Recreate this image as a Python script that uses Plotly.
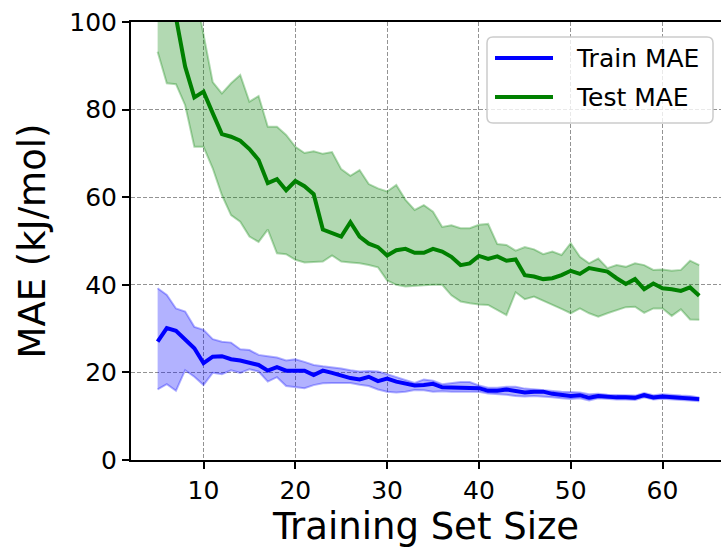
import plotly.graph_objects as go

# Training set sizes
sizes = list(range(5, 65))

# Train MAE (kJ/mol): mean and spread bounds
train_mean = [27.0, 30.1, 29.5, 27.4, 25.5, 22.1, 23.6, 23.7, 23.0, 22.7,
              22.2, 21.7, 20.4, 21.2, 20.4, 20.5, 20.4, 19.4, 20.4, 19.9,
              19.2, 18.7, 18.4, 19.0, 18.0, 18.6, 17.9, 17.4, 17.0, 17.1,
              17.4, 16.6, 16.6, 16.5, 16.4, 16.4, 15.8, 15.8, 16.1, 15.8,
              15.4, 15.6, 15.6, 15.1, 14.9, 14.6, 14.8, 14.2, 14.6, 14.4,
              14.3, 14.3, 14.2, 14.8, 14.3, 14.5, 14.3, 14.2, 14.1, 13.9]
train_upper = [39.2, 37.7, 34.6, 33.9, 30.4, 29.7, 27.6, 27.0, 26.8, 25.3,
               25.1, 24.0, 23.7, 23.4, 22.7, 23.0, 22.4, 21.7, 21.4, 21.2,
               20.9, 20.5, 20.2, 20.3, 20.2, 19.6, 18.9, 18.2, 17.6, 18.4,
               18.1, 17.3, 17.5, 17.8, 17.8, 17.0, 16.5, 16.5, 16.7, 16.7,
               16.3, 16.1, 16.0, 15.8, 15.6, 15.5, 15.4, 15.0, 15.1, 14.9,
               14.8, 14.8, 14.7, 15.3, 14.8, 15.0, 14.8, 14.7, 14.6, 14.3]
train_lower = [16.1, 17.3, 15.8, 20.5, 19.0, 17.1, 19.9, 19.6, 20.5, 19.9,
               20.7, 20.2, 17.9, 18.9, 16.9, 16.6, 16.4, 17.1, 17.5, 17.6,
               17.6, 17.6, 17.2, 16.9, 16.1, 15.6, 15.4, 15.6, 16.0, 15.9,
               15.6, 15.7, 15.6, 15.6, 15.6, 15.6, 15.2, 15.1, 14.9, 14.6,
               14.5, 14.6, 14.5, 14.3, 14.1, 13.9, 14.1, 13.6, 14.1, 13.9,
               13.8, 13.8, 13.7, 14.3, 13.8, 14.0, 13.8, 13.7, 13.6, 13.4]

# Test MAE (kJ/mol): mean and spread bounds
test_mean = [120.0, 112.0, 101.0, 89.8, 82.8, 84.1, 79.2, 74.4, 73.8, 72.9,
             71.0, 68.5, 63.2, 64.1, 61.6, 63.7, 62.5, 60.7, 52.6, 51.7,
             51.0, 54.3, 51.0, 49.4, 48.6, 46.7, 47.9, 48.2, 47.3, 47.3,
             48.2, 47.6, 46.4, 44.5, 44.9, 46.6, 45.9, 46.5, 45.5, 45.8,
             42.2, 41.9, 41.3, 41.5, 42.2, 43.2, 42.5, 43.8, 43.5, 43.0,
             41.5, 40.2, 41.3, 39.0, 40.3, 39.2, 39.0, 38.6, 39.4, 37.5]
test_upper = [145.0, 135.0, 125.0, 115.0, 108.0, 97.0, 86.3, 83.7, 86.0, 87.9,
              81.8, 83.1, 76.1, 76.1, 74.2, 71.5, 70.1, 70.5, 69.9, 70.3,
              66.4, 64.9, 66.2, 63.0, 62.0, 61.3, 62.8, 59.4, 57.1, 58.2,
              56.7, 53.2, 53.6, 52.9, 52.9, 53.7, 53.9, 49.3, 49.1, 47.8,
              48.6, 48.1, 47.0, 47.6, 46.8, 49.5, 46.4, 44.9, 46.0, 43.8,
              44.5, 44.1, 44.9, 44.5, 43.4, 43.5, 43.2, 43.4, 45.5, 44.5]
test_lower = [93.2, 86.0, 85.8, 81.0, 71.5, 71.5, 66.6, 60.5, 55.9, 54.4,
              51.0, 49.8, 52.6, 47.2, 47.0, 45.7, 45.1, 45.2, 45.3, 46.7,
              45.3, 45.1, 44.9, 44.5, 44.0, 41.0, 40.0, 39.6, 39.8, 39.9,
              40.0, 40.0, 37.6, 36.2, 35.8, 35.5, 35.4, 34.3, 33.1, 38.3,
              36.7, 37.3, 36.4, 35.5, 34.5, 33.5, 34.6, 33.5, 32.7, 33.5,
              34.2, 34.9, 35.0, 33.6, 34.6, 34.6, 32.9, 34.4, 32.1, 32.0]

x_ticks = [10, 20, 30, 40, 50, 60]
y_ticks = [0, 20, 40, 60, 80, 100]

series = [
    ("Train MAE", train_mean, train_lower, train_upper, (0, 0, 255)),
    ("Test MAE", test_mean, test_lower, test_upper, (0, 128, 0)),
]

W, H = 721, 551
ML, MR, MT, MB = 131, 0, 22, 91
FONT = "DejaVu Sans"

fig = go.Figure()

for name, mean, lower, upper, (r, g, b) in series:
    band = f"rgba({r},{g},{b},0.3)"
    fig.add_trace(go.Scatter(x=sizes, y=lower, mode="lines",
                             line=dict(color=band, width=2),
                             showlegend=False, hoverinfo="skip"))
    fig.add_trace(go.Scatter(x=sizes, y=upper, mode="lines", fill="tonexty",
                             fillcolor=band, line=dict(color=band, width=2),
                             showlegend=False, hoverinfo="skip"))
    fig.add_trace(go.Scatter(x=sizes, y=mean, mode="lines", name=name,
                             line=dict(color=f"rgb({r},{g},{b})", width=4),
                             showlegend=False))

# Legend box drawn in pixel space, converted to paper coordinates
pw, ph = W - ML - MR, H - MT - MB


def px(xp):
    return (xp - ML) / pw


def py(yp):
    return (H - MB - yp) / ph


x0, x1, y0, y1, rad = 487, 713, 37, 123, 6
path = (f"M{px(x0 + rad)},{py(y0)} L{px(x1 - rad)},{py(y0)} "
        f"Q{px(x1)},{py(y0)} {px(x1)},{py(y0 + rad)} "
        f"L{px(x1)},{py(y1 - rad)} Q{px(x1)},{py(y1)} {px(x1 - rad)},{py(y1)} "
        f"L{px(x0 + rad)},{py(y1)} Q{px(x0)},{py(y1)} {px(x0)},{py(y1 - rad)} "
        f"L{px(x0)},{py(y0 + rad)} Q{px(x0)},{py(y0)} {px(x0 + rad)},{py(y0)} Z")
fig.add_shape(type="path", path=path, xref="paper", yref="paper",
              fillcolor="rgba(255,255,255,0.8)",
              line=dict(color="#cccccc", width=1.5), layer="above")

rows = [58, 97]
for (name, _, _, _, (r, g, b)), yr in zip(series, rows):
    fig.add_shape(type="line", xref="paper", yref="paper",
                  x0=px(495), x1=px(553), y0=py(yr), y1=py(yr),
                  line=dict(color=f"rgb({r},{g},{b})", width=4), layer="above")
    fig.add_annotation(x=px(574), y=py(yr), xref="paper", yref="paper",
                       text=name, showarrow=False, xanchor="left",
                       yanchor="middle",
                       font=dict(family=FONT, size=25, color="black"))

axis_common = dict(
    showline=True, linecolor="black", linewidth=2,
    ticks="outside", ticklen=7, tickwidth=2, tickcolor="black",
    showgrid=True, gridcolor="rgba(128,128,128,0.85)", gridwidth=1,
    griddash="4px,2px", zeroline=False,
    tickfont=dict(family=FONT, size=25, color="black"),
)

fig.update_layout(
    width=W, height=H,
    margin=dict(l=ML, r=MR, t=MT, b=MB),
    paper_bgcolor="white", plot_bgcolor="white",
    showlegend=False,
    xaxis=dict(range=[2.1, 66.37], tickvals=x_ticks, mirror=True,
               title=dict(text="Training Set Size",
                          font=dict(family=FONT, size=37, color="black"),
                          standoff=6),
               **axis_common),
    yaxis=dict(range=[0, 100], tickvals=y_ticks,
               title=dict(text="MAE (kJ/mol)",
                          font=dict(family=FONT, size=37, color="black"),
                          standoff=12),
               **axis_common),
)

fig.write_html("out.html")
